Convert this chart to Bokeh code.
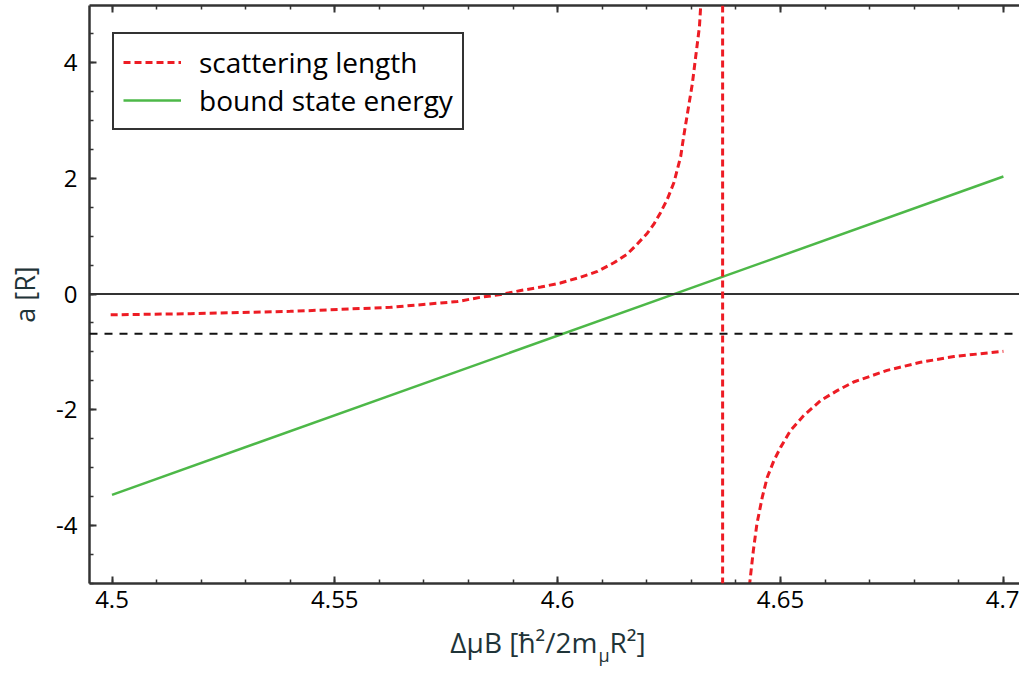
import numpy as np
from bokeh.plotting import figure
from bokeh.layouts import column
from bokeh.models import (LinearAxis, FixedTicker, Span, Legend, LegendItem,
                          Range1d, ColumnDataSource)
from bokeh.core.properties import value
from bokeh.embed import file_html
from bokeh.resources import INLINE

# ---------------- data ----------------
x_ticks = [4.5, 4.55, 4.6, 4.65, 4.7]
x_tick_labels = ["4.5", "4.55", "4.6", "4.65", "4.7"]
y_ticks = [-4, -2, 0, 2, 4]
y_tick_labels = ["-4", "-2", "0", "2", "4"]

# scattering length, branch below the resonance
sl_left_x = [4.4997, 4.5176, 4.5400, 4.5625, 4.5775, 4.5828, 4.5872, 4.5917, 4.5962,
             4.6006, 4.6051, 4.6089, 4.6126, 4.6156, 4.6178, 4.6201, 4.6216, 4.6231,
             4.6246, 4.6261, 4.6276, 4.6283, 4.6302, 4.6318, 4.6321]
sl_left_a = [-0.36, -0.34, -0.30, -0.23, -0.13, -0.055, -0.01, 0.06, 0.12,
             0.19, 0.29, 0.39, 0.54, 0.69, 0.86, 1.05, 1.21, 1.41,
             1.64, 1.93, 2.38, 2.74, 3.63, 4.62, 5.0]
# scattering length, branch above the resonance
sl_right_x = [4.6430, 4.6439, 4.6447, 4.6459, 4.6470, 4.6485, 4.6500, 4.6522, 4.6552,
              4.6590, 4.6627, 4.6664, 4.6739, 4.6814, 4.6889, 4.7000]
sl_right_a = [-5.05, -4.43, -3.97, -3.51, -3.17, -2.88, -2.65, -2.36, -2.10,
              -1.84, -1.67, -1.52, -1.32, -1.18, -1.08, -0.99]
# bound state energy
bse_x = [4.5, 4.7]
bse_a = [-3.47, 2.03]
# resonance position and background level
resonance_x = 4.637
background_a = -0.685

# x-axis title pieces (main, subscript, tail)
x_title_main = "ΔμB [ħ²/2m"
x_title_sub = "μ"
x_title_tail = "R²]"

# ---------------- figure ----------------
X_RANGE = (4.49495, 4.70361)
Y_RANGE = (-5.002, 4.985)
FONT = "Open Sans"
AXIS_COL = "#333333"
LABEL_COL = "#1f3438"
RED = "#ed1c24"
GREEN = "#4db848"
PX_PER_UNIT = 4457.0   # screen pixels per x unit of the reference frame


def px_to_x(px):
    return 4.5 + (px - 111.5) / PX_PER_UNIT


MAIN_H = 623
p = figure(width=1019, height=MAIN_H, x_range=Range1d(*X_RANGE), y_range=Range1d(*Y_RANGE),
           output_backend="svg", toolbar_location=None,
           min_border_left=89, min_border_right=0, min_border_top=5, min_border_bottom=40)
p.outline_line_color = None
p.grid.visible = False
p.background_fill_color = "white"
p.border_fill_color = "white"

x_minor = list(np.round(np.arange(4.49, 4.711, 0.01), 2))
y_minor = list(np.arange(-5.0, 5.01, 0.5))


def style_axis(ax, show_labels=True):
    ax.axis_line_color = AXIS_COL
    ax.axis_line_width = 2.5
    ax.major_tick_in = 7
    ax.major_tick_out = 0
    ax.minor_tick_in = 4
    ax.minor_tick_out = 0
    ax.major_tick_line_color = AXIS_COL
    ax.minor_tick_line_color = AXIS_COL
    ax.major_tick_line_width = 2
    ax.minor_tick_line_width = 1.5
    ax.major_label_text_font = FONT
    ax.major_label_text_color = "black"
    if show_labels:
        ax.major_label_text_font_size = "24px"
        ax.major_label_standoff = 7
    else:
        ax.major_label_text_font_size = "0px"
        ax.major_label_standoff = 0


p.xaxis[0].ticker = FixedTicker(ticks=x_ticks, minor_ticks=x_minor)
p.xaxis[0].major_label_overrides = dict(zip(x_ticks, x_tick_labels))
style_axis(p.xaxis[0])

p.yaxis[0].ticker = FixedTicker(ticks=y_ticks, minor_ticks=y_minor)
p.yaxis[0].major_label_overrides = dict(zip(y_ticks, y_tick_labels))
style_axis(p.yaxis[0])
p.yaxis[0].major_label_standoff = 12
p.yaxis[0].axis_label = "a [R]"
p.yaxis[0].axis_label_text_font = FONT
p.yaxis[0].axis_label_text_font_size = "27px"
p.yaxis[0].axis_label_text_font_style = "normal"
p.yaxis[0].axis_label_text_color = LABEL_COL
p.yaxis[0].axis_label_standoff = 10

top = LinearAxis(ticker=FixedTicker(ticks=x_ticks, minor_ticks=x_minor),
                 major_label_overrides={t: "" for t in x_ticks})
style_axis(top, show_labels=False)
p.add_layout(top, "above")

# reference lines
p.add_layout(Span(location=0, dimension="width", line_color=AXIS_COL, line_width=2))
p.add_layout(Span(location=background_a, dimension="width", line_color="#111111",
                  line_width=2, line_dash="8 7"))
p.add_layout(Span(location=resonance_x, dimension="height", line_color=RED,
                  line_width=3, line_dash="7 4"))

# curves
sl_src = ColumnDataSource(dict(x=sl_left_x + [float("nan")] + sl_right_x,
                               a=sl_left_a + [float("nan")] + sl_right_a))
r_sl = p.line("x", "a", source=sl_src, line_color=RED, line_width=3, line_dash="7 4")
bse_src = ColumnDataSource(dict(x=bse_x, a=bse_a))
r_bse = p.line("x", "a", source=bse_src, line_color=GREEN, line_width=2.5)

legend = Legend(items=[LegendItem(label="scattering length", renderers=[r_sl]),
                       LegendItem(label="bound state energy", renderers=[r_bse])],
                location=(23, 453), padding=9, spacing=0,
                glyph_width=58, glyph_height=20, label_height=20, label_standoff=18,
                label_text_font=FONT, label_text_font_size="28px", label_text_color="black",
                label_text_line_height=1.0,
                border_line_color=AXIS_COL, border_line_width=2, border_line_alpha=1,
                background_fill_color="white", background_fill_alpha=1)
p.add_layout(legend)

# ---------------- x-axis title strip ----------------
STRIP_H = 676 - MAIN_H
p2 = figure(width=1019, height=STRIP_H, x_range=p.x_range, y_range=Range1d(0, STRIP_H),
            output_backend="svg", toolbar_location=None,
            x_axis_location=None, y_axis_location=None,
            min_border_left=89, min_border_right=0, min_border_top=0, min_border_bottom=0)
p2.grid.visible = False
p2.outline_line_color = None
p2.background_fill_color = "white"
p2.border_fill_color = "white"
p2.text(x=[px_to_x(597)], y=[35], text=[x_title_main], text_align="right",
        text_baseline="alphabetic",
        text_font=value(FONT), text_font_size="28px", text_color=LABEL_COL)
p2.text(x=[px_to_x(598)], y=[22], text=[x_title_sub], text_align="left",
        text_baseline="alphabetic",
        text_font=value(FONT), text_font_size="18px", text_color=LABEL_COL)
p2.text(x=[px_to_x(609)], y=[35], text=[x_title_tail], text_align="left",
        text_baseline="alphabetic",
        text_font=value(FONT), text_font_size="28px", text_color=LABEL_COL)

layout = column(p, p2, spacing=0)
open("out.html", "w").write(file_html(layout, INLINE))
